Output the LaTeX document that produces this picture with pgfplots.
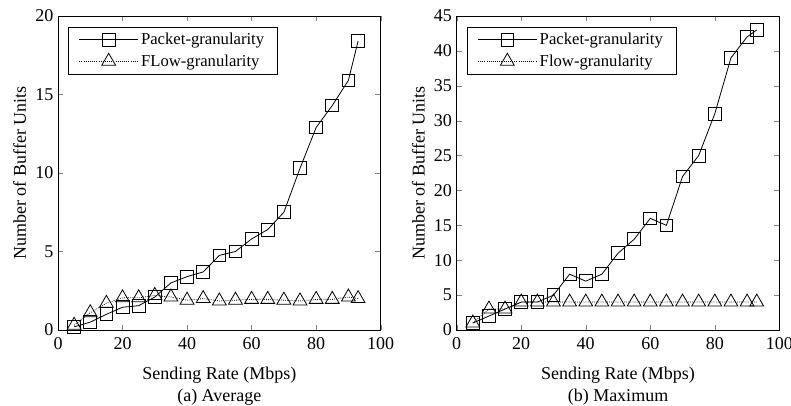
\documentclass[border=0pt]{standalone}
\usepackage{fontspec}
\setmainfont{Liberation Serif}
\usepackage{pgfplots}
\pgfplotsset{compat=1.18}
\pgfplotsset{
  mystyle/.style={
    scale only axis, width=242pt, height=235.5pt,
    xmin=0, xmax=100, ymin=0,
    xtick={0,20,...,100},
    tick align=inside, tick pos=both,
    major tick length=4pt,
    /pgf/number format/assume math mode=true,
    tick label style={font=\fontsize{13.5}{15}\selectfont},
    xticklabel style={yshift=-2pt},
    label style={font=\fontsize{13.5}{13.5}\selectfont},
    xlabel style={align=center, yshift=-6pt},
    ylabel style={yshift=0pt},
    ylabel={Number of Buffer Units},
    legend cell align=left,
    legend style={at={(0,1)}, anchor=north west, xshift=7.5pt, yshift=-8pt,
      font=\fontsize{12.5}{14}\selectfont, draw=black, inner xsep=8pt, inner ysep=2.5pt,
      row sep=2pt},
    legend image code/.code={
      \draw[#1, mark repeat=2, mark phase=2] plot coordinates {(0pt,0pt) (22pt,0pt) (44pt,0pt)};
    },
  },
  pk/.style={black, solid, line width=0.6pt, mark=square, mark size=4.8pt, mark options={solid, line width=0.6pt}},
  fl/.style={black, densely dotted, line width=0.6pt, mark=triangle, mark size=6pt, mark options={solid, line width=0.6pt}},
}
\begin{document}
\begin{tikzpicture}
\path[use as bounding box] (-43.5pt,-57pt) rectangle (549.75pt,247.5pt);
\begin{axis}[mystyle, ymax=20, ytick={0,5,...,20},
  xlabel={Sending Rate (Mbps)\\[3pt](a) Average}]
\addplot[pk] coordinates {
(5,0.2) (10,0.5) (15,1.0) (20,1.45) (25,1.55) (30,2.1) (35,3.0) (40,3.4) (45,3.7)
(50,4.75) (55,5.0) (60,5.8) (65,6.4) (70,7.5) (75,10.3) (80,12.9) (85,14.3) (90,15.9) (93,18.4)};
\addlegendentry{Packet-granularity}
\addplot[fl] coordinates {
(5,0.3) (10,1.1) (15,1.7) (20,2.05) (25,2.05) (30,2.2) (35,2.1) (40,1.9) (45,2.0)
(50,1.85) (55,1.9) (60,1.95) (65,1.95) (70,1.9) (75,1.85) (80,1.95) (85,1.95) (90,2.1) (93,2.0)};
\addlegendentry{FLow-granularity}
\end{axis}
\begin{axis}[mystyle, xshift=299pt, ymax=45, ytick={0,5,...,45},
  xlabel={Sending Rate (Mbps)\\[3pt](b) Maximum}]
\addplot[pk] coordinates {
(5,1) (10,2) (15,3) (20,4) (25,4) (30,5) (35,8) (40,7) (45,8)
(50,11) (55,13) (60,16) (65,15) (70,22) (75,25) (80,31) (85,39) (90,42) (93,43)};
\addlegendentry{Packet-granularity}
\addplot[fl] coordinates {
(5,1) (10,3) (15,3) (20,4) (25,4) (30,4) (35,4) (40,4) (45,4)
(50,4) (55,4) (60,4) (65,4) (70,4) (75,4) (80,4) (85,4) (90,4) (93,4)};
\addlegendentry{Flow-granularity}
\end{axis}
\end{tikzpicture}
\end{document}
